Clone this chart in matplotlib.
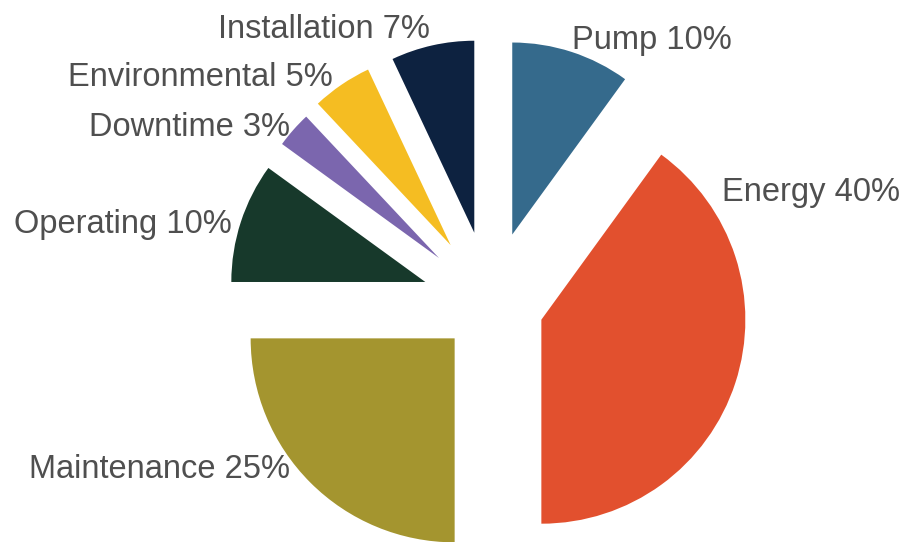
import matplotlib
matplotlib.use("Agg")
import matplotlib.pyplot as plt

# slices, clockwise from 12 o'clock
names = ["Pump", "Energy", "Maintenance", "Operating", "Downtime", "Environmental", "Installation"]
shares = [10, 40, 25, 10, 3, 5, 7]
colors = ["#356a8c", "#e2502e", "#a4952f", "#17392b", "#7b66ae", "#f5bd22", "#0d2240"]
explode = [0.36, 0.27, 0.25, 0.34, 0.34, 0.35, 0.36]
radii = [0.96, 1.02, 1.02, 0.97, 0.97, 0.97, 0.96]

# label anchors in pixels (x, y from top) and alignment
label_px = {
    "Pump": (572, 40, "left"),
    "Energy": (722, 192, "left"),
    "Maintenance": (290, 470, "right"),
    "Operating": (232, 225, "right"),
    "Downtime": (290, 128, "right"),
    "Environmental": (333, 78, "right"),
    "Installation": (430, 30, "right"),
}

W, H = 902, 542
cx, cy, scale = 490, 303, 200  # pie centre in px, px per unit radius

fig = plt.figure(figsize=(W / 100, H / 100), dpi=100)
ax = fig.add_axes([0, 0, 1, 1])

wedges, _ = ax.pie(shares, colors=colors, explode=explode, startangle=90,
                   counterclock=False, radius=1.0, center=(0, 0),
                   wedgeprops=dict(linewidth=0))
for w, r in zip(wedges, radii):
    w.set_radius(r)

for name, val in zip(names, shares):
    px, py, ha = label_px[name]
    ax.text((px - cx) / scale, (cy - py) / scale, f"{name} {val}%",
            ha=ha, va="center", fontsize=23.5, color="#4f4f4f",
            family="Liberation Sans")

ax.set_xlim(-cx / scale, (W - cx) / scale)
ax.set_ylim(-(H - cy) / scale, cy / scale)
ax.set_aspect("equal")
ax.axis("off")

fig.savefig("out.png", dpi=100, facecolor="white")
